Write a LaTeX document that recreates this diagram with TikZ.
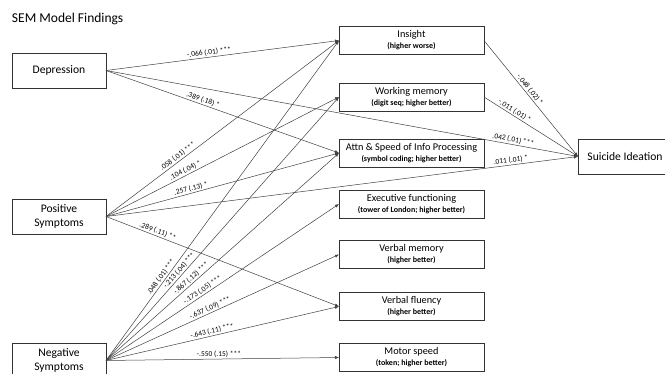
\documentclass[tikz,border=0pt]{standalone}
\usepackage{fontspec}
\setmainfont{Carlito}
\usetikzlibrary{arrows.meta}

\newcommand{\subtxt}[1]{{\fontsize{8}{11}\selectfont\bfseries #1}}

\begin{document}
\begin{tikzpicture}[x=1pt, y=-1pt]
\tikzset{ >={Latex[length=4pt,width=3.2pt]}, inner sep=0pt, outer sep=0pt,
  srcbox/.style={draw=black!80, line width=0.9pt, minimum width=94pt, minimum height=35pt, align=center, font=\fontsize{11.6}{13.6}\selectfont},
  midbox/.style={draw=black!80, line width=0.9pt, minimum width=145pt, minimum height=28pt, align=center, font=\fontsize{10.3}{11}\selectfont},
  link/.style={->, draw=black!75, line width=0.5pt},
  coef/.style={sloped, above=1.5pt, font=\fontsize{7.5}{8}\selectfont},
}

\useasboundingbox (0,0) rectangle (665,374);

%\draw [lightgray, dashed](0,0) grid (665,374);

\node [anchor=west, font=\fontsize{13.5}{15}\selectfont] (title) at (12,19) {SEM Model Findings};

\node [srcbox] (Dep) at (59,70.5) {Depression};
\node [srcbox] (Pos) at (59,216.5) {Positive\\Symptoms};
\node [srcbox] (Neg) at (59,360.5) {Negative\\Symptoms};

\node [midbox] (Ins) at (411.5,40.5)  {Insight\\\subtxt{(higher worse)}};
\node [midbox] (WM)  at (411.5,97)    {Working memory\\\subtxt{(digit seq; higher better)}};
\node [midbox] (Att) at (411.5,153)   {Attn \& Speed of Info Processing\\\subtxt{(symbol coding; higher better)}};
\node [midbox] (EF)  at (411.5,204)   {Executive functioning\\\subtxt{(tower of London; higher better)}};
\node [midbox] (VM)  at (411.5,254.5) {Verbal memory\\\subtxt{(higher better)}};
\node [midbox] (VF)  at (411.5,306.5) {Verbal fluency\\\subtxt{(higher better)}};
\node [midbox] (Mot) at (411.5,357.5) {Motor speed\\\subtxt{(token; higher better)}};

\node [srcbox, anchor=west] (SI) at (578,156.5) {Suicide Ideation};

\draw [link] (Dep.east) -- node [coef, pos=.445] {-.066 (.01) ***} (Ins.west);
\draw [link] (Dep.east) -- node [coef, pos=.41] {.389 (.18) *} (Att.west);
\draw [link] (Dep.east) -- node [coef, pos=.861] {.042 (.01) ***} (SI.west);

\draw [link] (Pos.east) -- node [coef, pos=.32] {.058 (.01) ***} (Ins.west);
\draw [link] (Pos.east) -- node [coef, pos=.35] {.104 (.04) *} (WM.west);
\draw [link] (Pos.east) -- node [coef, pos=.37] {.257 (.13) *} (Att.west);
\draw [link] (Pos.east) -- node [coef, pos=.859] {.011 (.01) *} (SI.west);
\draw [link] (Pos.east) -- node [coef, pos=.215] {.289 (.11) **} (VF.west);

\draw [link] (Neg.east) -- node [coef, pos=.253] {.048 (.01) ***} (Ins.west);
\draw [link] (Neg.east) -- node [coef, pos=.33] {-.213 (.04) ***} (WM.west);
\draw [link] (Neg.east) -- node [coef, pos=.379] {-.867 (.12) ***} (Att.west);
\draw [link] (Neg.east) -- node [coef, pos=.426] {-.173 (.05) ***} (EF.west);
\draw [link] (Neg.east) -- node [coef, pos=.455] {-.637 (.09) ***} (VM.west);
\draw [link] (Neg.east) -- node [coef, pos=.46] {-.643 (.11) ***} (VF.west);
\draw [link] (Neg.east) -- node [coef, pos=.485] {-.550 (.15) ***} (Mot.west);

\draw [link] (Ins.east) -- node [coef, pos=.45] {-.048 (.02) *} (SI.west);
\draw [link] (WM.east)  -- node [coef, pos=.30] {-.011 (.01) *} (SI.west);

\end{tikzpicture}
\end{document}
